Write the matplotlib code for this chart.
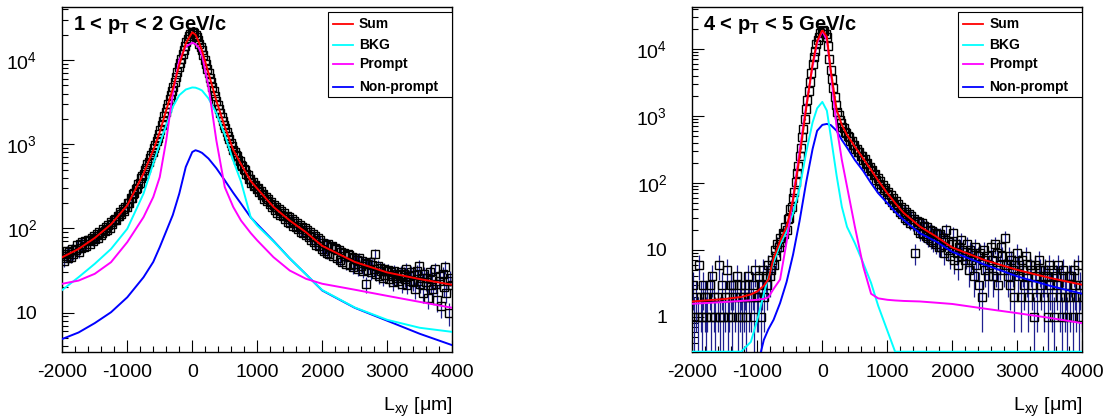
import numpy as np
import matplotlib
matplotlib.use("Agg")
import matplotlib.pyplot as plt
from matplotlib.patches import Rectangle
from matplotlib.lines import Line2D
from matplotlib.ticker import MultipleLocator, LogLocator, NullFormatter

plt.rcParams['font.family'] = ['Liberation Sans', 'DejaVu Sans']
plt.rcParams['mathtext.fontset'] = 'custom'
plt.rcParams['mathtext.rm'] = 'Liberation Sans'
plt.rcParams['mathtext.it'] = 'Liberation Sans:italic'
plt.rcParams['mathtext.bf'] = 'Liberation Sans:bold'
plt.rcParams['axes.unicode_minus'] = False

# ---------------- data ----------------
# histogram bins (20 um wide) between -2000 and 4000 um
bin_lo, bin_hi, bin_w = -2000, 4000, 20
bin_centres = np.arange(bin_lo + bin_w / 2, bin_hi, bin_w)

# 1 < pT < 2 GeV/c : counts per bin (one row = 200 um)
counts_pt12 = [
    50, 41, 47, 54, 44, 52, 46, 57, 49, 55,
    55, 63, 52, 66, 58, 69, 60, 71, 62, 73,
    72, 66, 78, 71, 81, 74, 86, 78, 90, 84,
    88, 99, 93, 104, 97, 110, 102, 118, 112, 126,
    131, 126, 141, 139, 155, 149, 168, 160, 182, 179,
    199, 203, 228, 231, 259, 264, 295, 301, 336, 344,
    392, 425, 441, 495, 526, 585, 622, 694, 741, 820,
    901, 978, 1102, 1196, 1342, 1475, 1688, 1879, 2145, 2393,
    2704, 3034, 3409, 3828, 4295, 4853, 5530, 6295, 7161, 8166,
    9250, 10400, 11750, 13200, 14800, 16400, 18000, 19400, 20600, 21300,
    21400, 21000, 20000, 18600, 17200, 15700, 14300, 13000, 11500, 10100,
    8970, 7930, 7000, 6170, 5450, 4810, 4250, 3740, 3300, 2960,
    2650, 2380, 2130, 1910, 1710, 1550, 1400, 1270, 1150, 1045,
    960, 851, 815, 741, 716, 652, 630, 571, 553, 505,
    494, 441, 437, 389, 388, 345, 355, 316, 331, 297,
    302, 268, 281, 247, 259, 226, 238, 211, 224, 197,
    205, 178, 189, 166, 181, 154, 170, 146, 159, 139,
    151, 129, 140, 120, 136, 115, 131, 108, 121, 104,
    116, 99, 110, 91, 105, 88, 101, 84, 95, 79,
    90, 73, 85, 69, 81, 64, 77, 61, 72, 57,
    68, 54, 64, 51, 66, 49, 60, 62, 47, 58,
    57, 44, 55, 42, 53, 40, 51, 47, 38, 49,
    48, 37, 46, 35, 44, 38, 42, 33, 45, 36,
    41, 31, 39, 22, 38, 32, 40, 30, 37, 33,
    50, 29, 36, 27, 34, 31, 26, 33, 28, 31,
    32, 25, 30, 27, 23, 31, 26, 29, 24, 28,
    30, 22, 29, 25, 33, 21, 27, 24, 30, 23,
    28, 19, 31, 24, 36, 22, 26, 17, 29, 23,
    26, 15, 30, 21, 25, 19, 33, 22, 14, 24,
    27, 12, 29, 20, 35, 17, 24, 10, 26, 21,
]

# 4 < pT < 5 GeV/c : counts per bin (one row = 200 um)
counts_pt45 = [
    3, 1, 2, 0, 1, 6, 2, 1, 3, 2,
    1, 2, 0, 3, 1, 4, 2, 1, 0, 2,
    6, 1, 3, 1, 0, 2, 5, 1, 2, 3,
    1, 3, 2, 0, 4, 1, 2, 3, 1, 2,
    3, 1, 4, 2, 0, 2, 3, 1, 5, 2,
    2, 4, 1, 3, 5, 2, 4, 3, 6, 4,
    5, 7, 6, 10, 8, 12, 11, 15, 13, 18,
    17, 22, 20, 29, 30, 41, 44, 59, 72, 104,
    140, 178, 249, 336, 478, 648, 912, 1250, 1730, 2340,
    3214, 4390, 6000, 7516, 9419, 11800, 13840, 15300, 17400, 18800,
    19200, 18400, 16900, 15300, 11200, 7080, 4800, 3550, 2620, 1940,
    1440, 1135, 1025, 878, 795, 690, 656, 581, 552, 494,
    481, 428, 420, 374, 368, 326, 325, 286, 288, 252,
    255, 219, 226, 191, 197, 167, 174, 148, 153, 129,
    134, 112, 118, 97, 106, 85, 93, 79, 84, 68,
    74, 58, 66, 52, 59, 46, 53, 42, 48, 37,
    44, 34, 40, 30, 37, 28, 34, 25, 32, 24,
    29, 9, 27, 20, 26, 18, 25, 17, 23, 16,
    22, 15, 20, 14, 19, 13, 18, 12, 17, 11,
    17, 11, 15, 9, 14, 20, 10, 13, 8, 12,
    18, 7, 12, 9, 6, 11, 14, 8, 10, 7,
    8, 12, 5, 10, 7, 9, 4, 11, 6, 8,
    3, 9, 2, 7, 10, 5, 8, 4, 6, 11,
    7, 4, 12, 5, 9, 3, 6, 11, 8, 5,
    15, 6, 4, 8, 3, 7, 5, 2, 6, 9,
    4, 6, 2, 7, 5, 3, 8, 4, 2, 6,
    5, 3, 1, 6, 4, 2, 7, 5, 3, 4,
    2, 5, 4, 1, 6, 3, 2, 5, 1, 4,
    3, 6, 2, 4, 1, 5, 2, 3, 1, 4,
    2, 4, 1, 5, 3, 2, 6, 1, 3, 2,
]

# fit components, 1 < pT < 2
curve_x_pt12 = [-2000, -1750, -1500, -1250, -1000, -750, -600, -500, -400, -300, -200, -100,
                0, 50, 100, 150, 250, 370, 500, 630, 750, 900, 1000, 1250, 1500, 1750,
                2000, 2500, 3000, 3500, 4000]
sum_pt12 = [45.5, 57, 77, 112, 188, 448, 850, 1400, 2550, 4550, 8700, 15800,
            21400, 20000, 16500, 13000, 7000, 3300, 1620, 860, 580, 365, 297, 180, 124, 90,
            62, 40, 30, 25, 21.4]
bkg_pt12 = [18.6, 26.3, 38, 57, 99, 259, 590, 1018, 1680, 2780, 3830, 4470,
            4730, 4700, 4550, 4350, 3500, 2350, 1300, 640, 360, 135, 108, 70, 44, 28.5,
            18.5, 11.5, 8.2, 6.6, 5.9]
prompt_pt12 = [22, 24, 28.9, 39.7, 68.7, 136, 236, 408, 1117, 4010, 10000, 14400,
               16100, 15500, 14000, 11500, 4820, 1117, 310, 180, 124, 88, 72, 45.5, 31.6, 25.2,
               22, 18.7, 15.8, 13.4, 11.4]
nonprompt_pt12 = [4.86, 5.8, 7.5, 10.1, 15.2, 26.3, 40, 60, 93, 144, 259, 537,
                  809, 849, 825, 790, 676, 520, 373, 265, 197, 135, 112, 71, 44, 28.5,
                  18.3, 11.4, 8.0, 5.6, 4.1]

# fit components, 4 < pT < 5
curve_x_pt45 = [-2000, -1500, -1250, -1100, -1000, -900, -830, -750, -650, -550, -450, -350,
                -250, -150, -80, 0, 70, 130, 220, 300, 380, 500, 630, 750, 860, 1000,
                1120, 1250, 1500, 1750, 2000, 2500, 3000, 3500, 4000]
sum_pt45 = [1.69, 1.84, 1.97, 2.15, 2.39, 2.9, 3.6, 7.5, 13.5, 22, 56, 245,
            1260, 6000, 13200, 19200, 15300, 4800, 1230, 735, 520, 348, 230, 156, 108, 70,
            50, 35.6, 22.3, 15.8, 10.8, 7.0, 5.0, 3.8, 3.0]
bkg_pt45 = [0, 0, 0, 0.42, 0.9, 2.2, 3.9, 6.5, 12, 19, 35, 83,
            280, 800, 1300, 1620, 1200, 500, 128, 44, 22, 12.6, 6.3, 3.2, 1.45, 0.62,
            0.3, 0, 0, 0, 0, 0, 0, 0, 0]
prompt_pt45 = [1.56, 1.66, 1.72, 1.76, 1.79, 1.85, 1.95, 2.6, 3.6, 13, 60, 300,
               1400, 5500, 12300, 18700, 13600, 4500, 693, 220, 88, 22.3, 5.6, 2.2, 1.88, 1.79,
               1.75, 1.72, 1.69, 1.62, 1.55, 1.32, 1.13, 0.96, 0.8]
nonprompt_pt45 = [0.01, 0.01, 0.01, 0.05, 0.18, 0.45, 0.65, 0.9, 1.6, 3.3, 8.5, 27,
                  100, 320, 600, 735, 760, 730, 600, 438, 337, 220, 150, 99, 70, 49.8,
                  37, 28, 17.7, 13.3, 9.3, 6.0, 4.0, 2.9, 2.2]

legend_names = ['Sum', 'BKG', 'Prompt', 'Non-prompt']
legend_colors = ['#ff0000', '#00ffff', '#ff00ff', '#0000ff']
x_ticks = [-2000, -1000, 0, 1000, 2000, 3000, 4000]
y_ticks_pt12 = [10, 100, 1000, 10000]
y_labels_pt12 = ['10', r'$\mathregular{10^{2}}$', r'$\mathregular{10^{3}}$', r'$\mathregular{10^{4}}$']
y_ticks_pt45 = [1, 10, 100, 1000, 10000]
y_labels_pt45 = ['1', '10', r'$\mathregular{10^{2}}$', r'$\mathregular{10^{3}}$', r'$\mathregular{10^{4}}$']


def draw_panel(ax, counts, cx, csum, cbkg, cprompt, cnonprompt, ylim, yticks, ylabels, title):
    counts = np.array(counts, dtype=float)
    ax.set_yscale('log')
    ax.errorbar(bin_centres, counts, yerr=np.sqrt(counts), fmt='none',
                ecolor='#1f1f8f', elinewidth=0.9, zorder=2)
    ax.plot(bin_centres, np.where(counts > 0, counts, np.nan), 's', mfc='none', mec='black',
            ms=5.5, mew=1.0, zorder=2.5)
    ymin = ylim[0]
    ax.plot(cx, cnonprompt, color=legend_colors[3], lw=1.4, zorder=3)
    ax.plot(cx, np.clip(cbkg, ymin, None), color=legend_colors[1], lw=1.4, zorder=3.1)
    ax.plot(cx, cprompt, color=legend_colors[2], lw=1.4, zorder=3.2)
    ax.plot(cx, csum, color=legend_colors[0], lw=1.4, zorder=3.3)

    ax.set_xlim(bin_lo, bin_hi)
    ax.set_ylim(*ylim)
    ax.set_xticks(x_ticks)
    ax.xaxis.set_minor_locator(MultipleLocator(200))
    ax.set_yticks(yticks, ylabels)
    ax.yaxis.set_minor_locator(LogLocator(base=10, subs=np.arange(2, 10), numticks=20))
    ax.yaxis.set_minor_formatter(NullFormatter())
    ax.tick_params(which='both', direction='in', top=False, right=False, width=0.8)
    ax.tick_params(which='major', length=8.5, labelsize=14)
    ax.tick_params(which='minor', length=4.3)
    ax.tick_params(axis='y', pad=18)
    ax.tick_params(axis='x', pad=9)
    for sp in ax.spines.values():
        sp.set_linewidth(1.0)

    ax.text(0.028, 0.933, title, transform=ax.transAxes, fontsize=14.5,
            fontweight='bold', va='baseline', ha='left', zorder=6)
    ax.text(1.0, -0.171, r'L$_{\mathregular{xy}}$ [μm]', transform=ax.transAxes,
            fontsize=14, ha='right', va='baseline')

    # legend box, ROOT style
    ax.add_patch(Rectangle((0.6805, 0.738), 0.3195, 0.2466, transform=ax.transAxes,
                           facecolor='white', edgecolor='black', lw=0.8, zorder=5))
    for yy, name, col in zip([0.950, 0.889, 0.834, 0.769], legend_names, legend_colors):
        ax.add_line(Line2D([0.694, 0.745], [yy, yy], color=col, lw=1.3,
                           transform=ax.transAxes, zorder=6))
        ax.text(0.761, yy, name, transform=ax.transAxes, fontsize=10,
                fontweight='bold', va='center', ha='left', zorder=6)


fig = plt.figure(figsize=(11.12, 4.18), dpi=100)
ax1 = fig.add_axes([0.056, 0.1586, 0.3507, 0.8246])
ax2 = fig.add_axes([0.6226, 0.1586, 0.3507, 0.8246])

draw_panel(ax1, counts_pt12, curve_x_pt12, sum_pt12, bkg_pt12, prompt_pt12, nonprompt_pt12,
           (3.43, 42700), y_ticks_pt12, y_labels_pt12, r'1 < p$_{\mathbf{T}}$ < 2 GeV/c')
draw_panel(ax2, counts_pt45, curve_x_pt45, sum_pt45, bkg_pt45, prompt_pt45, nonprompt_pt45,
           (0.30, 42400), y_ticks_pt45, y_labels_pt45, r'4 < p$_{\mathbf{T}}$ < 5 GeV/c')

fig.savefig('out.png', dpi=100)
